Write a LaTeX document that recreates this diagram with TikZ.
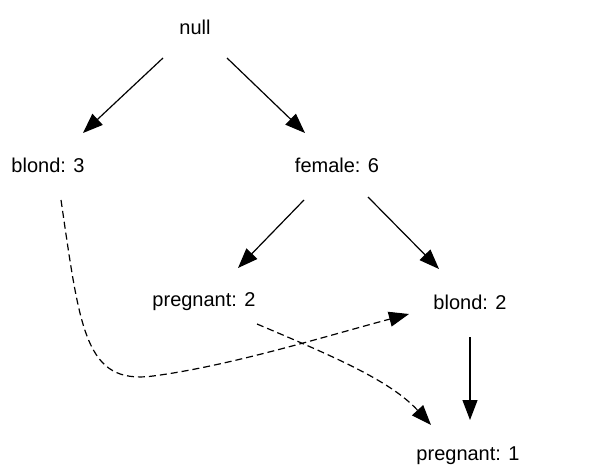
\documentclass[tikz,border=0pt]{standalone}
\usepackage{fontspec}
\setmainfont{Liberation Sans}
\usetikzlibrary{arrows.meta}
\tikzset{
  lbl/.style={font=\fontsize{20}{24}\selectfont, inner sep=0pt, anchor=center},
  edge/.style={line width=1.2pt, -{Triangle[length=20pt,width=15pt]}},
  link/.style={edge, dash pattern=on 7pt off 4pt}
}
\begin{document}
\begin{tikzpicture}[x=1pt,y=-1pt]
  \useasboundingbox (0,0) rectangle (595,468);
  % item nodes
  \node[lbl] (root) at (195,27)  {null};
  \node[lbl] (b3)   at (48,165)  {blond: 3};
  \node[lbl] (f6)   at (337,165) {female: 6};
  \node[lbl] (p2)   at (204,302) {pregnant: 2};
  \node[lbl] (b2)   at (470,302) {blond: 2};
  \node[lbl] (p1)   at (468,456) {pregnant: 1};
  % connector end points
  \coordinate (r1) at (163,58);   \coordinate (b3in) at (83,133);
  \coordinate (r2) at (227,58);   \coordinate (f6in) at (305,133);
  \coordinate (f1) at (304,200);  \coordinate (p2in) at (238,268);
  \coordinate (f2) at (368,197);  \coordinate (b2in) at (439,269);
  \coordinate (b2o) at (470,337); \coordinate (p1in) at (470,420);
  \coordinate (b3o) at (61,200);  \coordinate (b2side) at (409,314);
  \coordinate (p2o) at (257,324); \coordinate (p1side) at (431,425);
  % tree edges
  \draw[edge] (r1) -- (b3in);
  \draw[edge] (r2) -- (f6in);
  \draw[edge] (f1) -- (p2in);
  \draw[edge] (f2) -- (b2in);
  \draw[edge] (b2o) -- (p1in);
  % node links
  \draw[link] (b3o) .. controls (80,330) and (85,385) .. (153,376)
                    .. controls (230,366) and (330,335) .. (b2side);
  \draw[link] (p2o) .. controls (330,355) and (390,380) .. (p1side);
\end{tikzpicture}
\end{document}
